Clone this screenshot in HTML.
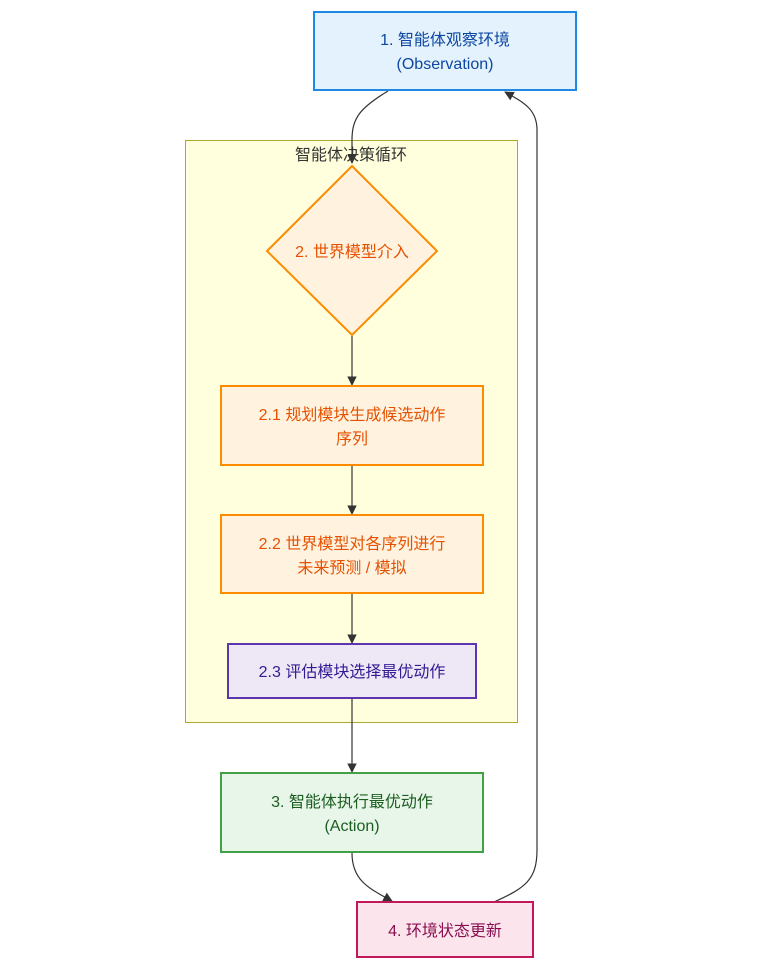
<!DOCTYPE html>
<html><head><meta charset="utf-8"><style>
body{margin:0;background:#fff;}
svg text{font-family:"Liberation Sans","Noto Sans CJK SC",sans-serif;font-size:16px;text-anchor:middle;}
</style></head><body>
<svg width="760" height="967" viewBox="0 0 760 967" xmlns="http://www.w3.org/2000/svg">
<defs><marker id="a" viewBox="0 0 10 10" refX="9" refY="5" markerWidth="8" markerHeight="8" orient="auto"><path d="M0,0L10,5L0,10z" fill="#333"/></marker></defs>
<rect x="185.5" y="140.5" width="332" height="582" fill="#ffffde" stroke="#aaaa33" stroke-width="1"/>
<text x="351" y="160" fill="#333">智能体决策循环</text>
<g fill="none" stroke="#333" stroke-width="1.2">
<path d="M388,91 C360,108 352,118 352,140 L352,163" marker-end="url(#a)"/>
<path d="M352,336 L352,385" marker-end="url(#a)"/>
<path d="M352,466 L352,514" marker-end="url(#a)"/>
<path d="M352,594 L352,643" marker-end="url(#a)"/>
<path d="M352,699 L352,772" marker-end="url(#a)"/>
<path d="M352,853 C352,880 368,888 392,901" marker-end="url(#a)"/>
<path d="M494,902 C525,888 537,880 537,850 L537,130 C537,110 525,103 505,92" marker-end="url(#a)"/>
</g>
<rect x="314" y="12" width="262" height="78" fill="#e3f2fd" stroke="#1e88e5" stroke-width="2"/>
<text x="445" y="45" fill="#0d47a1">1. 智能体观察环境</text>
<text x="445" y="69" fill="#0d47a1">(Observation)</text>
<polygon points="352,166 437,251 352,335 267,251" fill="#fff3e0" stroke="#fb8c00" stroke-width="2"/>
<text x="352" y="257" fill="#e65100">2. 世界模型介入</text>
<rect x="221" y="386" width="262" height="79" fill="#fff3e0" stroke="#fb8c00" stroke-width="2"/>
<text x="352" y="420" fill="#e65100">2.1 规划模块生成候选动作</text>
<text x="352" y="444" fill="#e65100">序列</text>
<rect x="221" y="515" width="262" height="78" fill="#fff3e0" stroke="#fb8c00" stroke-width="2"/>
<text x="352" y="549" fill="#e65100">2.2 世界模型对各序列进行</text>
<text x="352" y="573" fill="#e65100">未来预测 / 模拟</text>
<rect x="228" y="644" width="248" height="54" fill="#ede7f6" stroke="#5e35b1" stroke-width="2"/>
<text x="352" y="677" fill="#311b92">2.3 评估模块选择最优动作</text>
<rect x="221" y="773" width="262" height="79" fill="#e8f5e9" stroke="#43a047" stroke-width="2"/>
<text x="352" y="807" fill="#1b5e20">3. 智能体执行最优动作</text>
<text x="352" y="831" fill="#1b5e20">(Action)</text>
<rect x="357" y="902" width="176" height="55" fill="#fce4ec" stroke="#c2185b" stroke-width="2"/>
<text x="445" y="936" fill="#880e4f">4. 环境状态更新</text>
</svg>
</body></html>
